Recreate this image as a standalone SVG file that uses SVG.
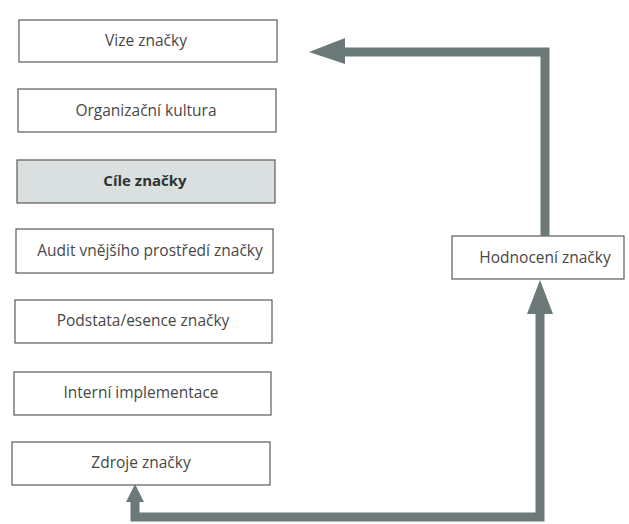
<svg xmlns="http://www.w3.org/2000/svg" width="629" height="524" viewBox="0 0 629 524">
<style>
.box{fill:#ffffff;stroke:#5a5a5a;stroke-width:1.2}
.hl{fill:#d9e0df}
.t{font-family:"Open Sans","Noto Sans",sans-serif;font-size:15.5px;fill:#474747;text-anchor:middle}
.b{font-weight:bold;font-size:15px;fill:#2e3333}
.c{fill:none;stroke:#6b7a78;stroke-width:9}
.h{fill:#6b7a78}
</style>
<rect width="629" height="524" fill="#ffffff"/>
<g id="vize"><rect class="box" x="19" y="20" width="258" height="42"/><text class="t" x="146" y="46">Vize značky</text></g>
<g id="kultura"><rect class="box" x="18" y="89" width="258" height="43"/><text class="t" x="146" y="116">Organizační kultura</text></g>
<g id="cile"><rect class="box hl" x="17" y="160" width="258" height="43"/><text class="t b" x="145" y="186">Cíle značky</text></g>
<g id="audit"><rect class="box" x="16" y="229" width="257" height="44"/><text class="t" x="150" y="256">Audit vnějšího prostředí značky</text></g>
<g id="podstata"><rect class="box" x="15" y="300" width="257" height="43"/><text class="t" x="143" y="326">Podstata/esence značky</text></g>
<g id="interni"><rect class="box" x="14" y="372" width="257" height="43"/><text class="t" x="141" y="398">Interní implementace</text></g>
<g id="zdroje"><rect class="box" x="12" y="442" width="258" height="43"/><text class="t" x="141" y="468">Zdroje značky</text></g>
<g id="hodnoceni"><rect class="box" x="452" y="236" width="172" height="43"/><text class="t" x="545" y="263">Hodnocení značky</text></g>
<g id="connectors">
<polyline class="c" points="135,500 135,517 540,517 540,312"/>
<polygon class="h" points="540,280 527,314 553,314"/>
<polygon class="h" points="135,484 126,502 144,502"/>
<polyline class="c" points="545,236 545,52 340,52"/>
<polygon class="h" points="309,52 345,38 345,64"/>
</g>
</svg>
